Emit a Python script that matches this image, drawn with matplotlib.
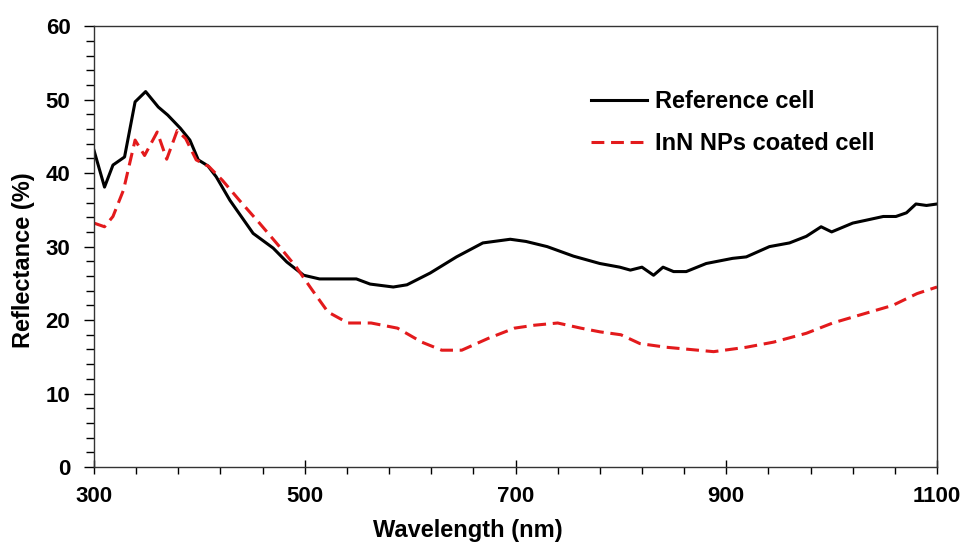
import matplotlib
matplotlib.use("Agg")
import matplotlib.pyplot as plt

plt.rcParams["font.family"] = ["Liberation Sans", "DejaVu Sans"]
plt.rcParams["font.weight"] = "bold"

# Reference cell (black solid)
ref_nm = [300, 310, 318, 329, 339, 349, 361, 370, 382, 391, 399, 408, 416, 429, 451,
          470, 483, 499, 514, 533, 549, 562, 584, 597, 619, 644, 669, 695, 710, 730,
          755, 780, 799, 809, 820, 831, 840, 850, 862, 881, 906, 919, 941, 960, 976,
          990, 1000, 1020, 1033, 1049, 1061, 1071, 1080, 1090, 1100]
ref_val = [43.1, 38.1, 41.1, 42.2, 49.7, 51.1, 49.0, 47.9, 46.1, 44.5, 41.8, 41.0, 39.5, 36.3, 31.8,
           29.8, 27.9, 26.1, 25.6, 25.6, 25.6, 24.9, 24.5, 24.8, 26.4, 28.6, 30.5, 31.0, 30.7, 30.0,
           28.7, 27.7, 27.2, 26.8, 27.2, 26.1, 27.2, 26.6, 26.6, 27.7, 28.4, 28.6, 30.0, 30.5, 31.4,
           32.7, 32.0, 33.2, 33.6, 34.1, 34.1, 34.6, 35.8, 35.6, 35.8]

# InN NPs coated cell (red dashed)
inn_nm = [300, 310, 318, 328, 339, 348, 360, 369, 379, 387, 397, 409, 422, 438, 457,
          476, 492, 507, 522, 541, 563, 588, 611, 630, 649, 674, 699, 718, 740, 762,
          780, 800, 818, 843, 888, 919, 945, 976, 1001, 1027, 1058, 1081, 1100]
inn_val = [33.2, 32.7, 34.1, 37.7, 44.5, 42.4, 45.6, 41.9, 45.8, 44.7, 41.8, 40.9, 39.0, 36.3, 33.2,
           30.0, 27.2, 24.1, 21.1, 19.6, 19.6, 18.9, 17.0, 15.9, 15.9, 17.5, 18.9, 19.3, 19.6, 18.9,
           18.4, 18.0, 16.8, 16.3, 15.7, 16.3, 17.0, 18.2, 19.6, 20.7, 22.0, 23.6, 24.5]

x_major = [300, 500, 700, 900, 1100]
x_minor = [v for v in range(300, 1101, 40) if v not in x_major]
y_major = [0, 10, 20, 30, 40, 50, 60]
y_minor = [v for v in range(0, 61, 2) if v not in y_major]

fig = plt.figure(figsize=(9.7, 5.46), dpi=100)
ax = fig.add_axes([0.0969, 0.1447, 0.8691, 0.8073])

ax.plot(ref_nm, ref_val, color="black", lw=2.2, label="Reference cell")
ax.plot(inn_nm, inn_val, color="#e31a1c", lw=2.2, dashes=(4.2, 2.2), label="InN NPs coated cell")

ax.set_xlim(300, 1100)
ax.set_ylim(0, 60)
ax.set_xticks(x_major)
ax.set_xticks(x_minor, minor=True)
ax.set_yticks(y_major)
ax.set_yticks(y_minor, minor=True)
ax.tick_params(axis="x", which="major", direction="inout", length=10, width=1, labelsize=16, pad=9)
ax.tick_params(axis="x", which="minor", direction="out", length=5, width=1)
ax.tick_params(axis="y", which="major", direction="out", length=7, width=1, labelsize=16, pad=10)
ax.tick_params(axis="y", which="minor", direction="out", length=6, width=1)
for lab in ax.get_xticklabels() + ax.get_yticklabels():
    lab.set_fontweight("bold")
for s in ax.spines.values():
    s.set_linewidth(1.0)
    s.set_color("#333333")

ax.set_xlabel("Wavelength (nm)", fontsize=17, fontweight="bold")
ax.xaxis.set_label_coords(0.444, -0.118)
ax.set_ylabel("Reflectance (%)", fontsize=17, fontweight="bold")
ax.yaxis.set_label_coords(-0.07, 0.47)

ax.legend(loc="upper left", bbox_to_anchor=(0.575, 0.882), frameon=False,
          handlelength=2.4, handletextpad=0.35, labelspacing=0.8,
          borderpad=0, prop={"weight": "bold", "size": 17})

fig.savefig("out.png", dpi=100)
